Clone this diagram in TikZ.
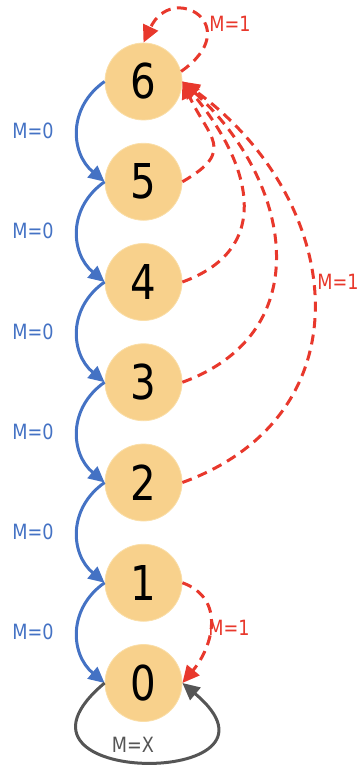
\documentclass[tikz,border=0pt]{standalone}
\usepackage{fontspec}
\setmainfont{DejaVu Sans}[FakeStretch=0.84]
\usetikzlibrary{arrows.meta}
\definecolor{nodefill}{RGB}{248,209,140}
\definecolor{nodeedge}{RGB}{250,222,168}
\definecolor{blueline}{RGB}{68,114,196}
\definecolor{redline}{RGB}{232,56,44}
\definecolor{greyline}{RGB}{85,85,85}
\begin{document}
\begin{tikzpicture}[x=1pt,y=1pt,
  st/.style={circle, minimum size=77pt, inner sep=0pt, fill=nodefill, draw=nodeedge, line width=0.8pt, font=\fontsize{48}{48}\selectfont},
  zero/.style={draw=blueline, line width=3pt, -{Triangle[length=16pt,width=15pt]}},
  one/.style={draw=redline, line width=3pt, dash pattern=on 10pt off 6.5pt, -{Triangle[length=17pt,width=16pt]}},
  anyx/.style={draw=greyline, line width=3pt, -{Triangle[length=17pt,width=16pt]}},
  lab/.style={font=\fontsize{21}{21}\selectfont, inner sep=0pt},
  bl/.style={lab, text=blueline},
  rl/.style={lab, text=redline},
  gl/.style={lab, text=greyline}]
\useasboundingbox (0,0) rectangle (360,-765);
\node[st] (n6) at (143.5,-81.5) {6};
\node[st] (n5) at (143.5,-181.75) {5};
\node[st] (n4) at (143.5,-282) {4};
\node[st] (n3) at (143.5,-382.25) {3};
\node[st] (n2) at (143.5,-482.5) {2};
\node[st] (n1) at (143.5,-582.75) {1};
\node[st] (n0) at (143.5,-683) {0};
% M=0 transitions
\draw[zero] (n6.west) to[out=215,in=140,looseness=1.15] (n5.west);
\draw[zero] (n5.west) to[out=215,in=140,looseness=1.15] (n4.west);
\draw[zero] (n4.west) to[out=215,in=140,looseness=1.15] (n3.west);
\draw[zero] (n3.west) to[out=215,in=140,looseness=1.15] (n2.west);
\draw[zero] (n2.west) to[out=215,in=140,looseness=1.15] (n1.west);
\draw[zero] (n1.west) to[out=215,in=140,looseness=1.15] (n0.west);
\node[bl] (l65) at (33,-131) {M=0};
\node[bl] (l54) at (33,-231.25) {M=0};
\node[bl] (l43) at (33,-331.5) {M=0};
\node[bl] (l32) at (33,-431.75) {M=0};
\node[bl] (l21) at (33,-532) {M=0};
\node[bl] (l10) at (33,-632.25) {M=0};
% M=1 transitions
\draw[one] (n6.15) to[out=35,in=65,out distance=80pt,in distance=68pt] (n6.north);
\draw[one] (n5.east) to[out=30,in=-65,looseness=1.6] (n6.east);
\draw[one] (n4.east) to[out=20,in=-50,looseness=1.3] (n6.east);
\draw[one] (n3.east) to[out=20,in=-42,looseness=1.25] (n6.east);
\draw[one] (n2.east) to[out=20,in=-36,looseness=1.28] (n6.east);
\draw[one] (n1.east) to[out=-20,in=50,looseness=1.2] (n0.east);
\node[rl] (r66) at (230,-24) {M=1};
\node[rl] (r26) at (338,-282) {M=1};
\node[rl] (r10) at (229,-628) {M=1};
% M=X
\draw[anyx] (n0.west) to[out=220,in=-40,distance=164pt] (n0.east);
\node[gl] (x00) at (133,-745) {M=X};
\end{tikzpicture}
\end{document}
